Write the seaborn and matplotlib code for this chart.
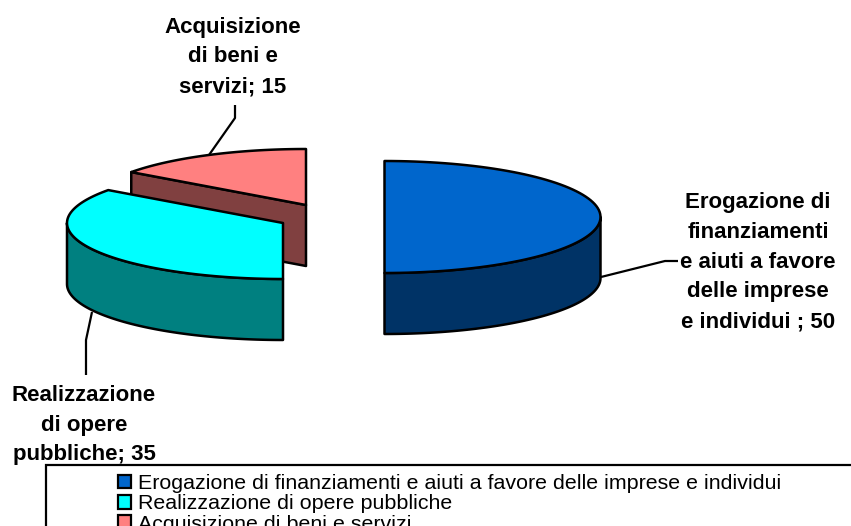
import numpy as np
import matplotlib
matplotlib.use("Agg")
import matplotlib.pyplot as plt
from matplotlib.patches import Patch, Rectangle
import seaborn as sns

categories = ["Erogazione di finanziamenti e aiuti a favore delle imprese e individui",
              "Realizzazione di opere pubbliche",
              "Acquisizione di beni e servizi"]
values = [50, 35, 15]
top_colors = ["#0066CC", "#00FFFF", "#FF8080"]
side_colors = ["#003366", "#008080", "#804040"]
slice_labels = ["Erogazione di\nfinanziamenti\ne aiuti a favore\ndelle imprese\ne individui ; 50",
                "Realizzazione\ndi opere\npubbliche; 35",
                "Acquisizione\ndi beni e\nservizi; 15"]

sns.set_theme(style="white")
plt.rcParams["font.family"] = ["Liberation Sans", "DejaVu Sans"]

fig = plt.figure(figsize=(8.51, 5.26), dpi=100)
ax = fig.add_axes([0, 0, 1, 1])
ax.set_xlim(0, 851)
ax.set_ylim(526, 0)
ax.set_axis_off()

RX, RY, DEPTH = 216, 56, 61
centers = [(384.5, 217), (283, 223), (306, 205)]
LW = 1.8


def rim(c, a0, a1, n=90):
    t = np.radians(np.linspace(a0, a1, n))
    return c[0] + RX * np.sin(t), c[1] - RY * np.cos(t)


def poly(xs, ys, color, z):
    ax.fill(xs, ys, facecolor=color, edgecolor="black", linewidth=LW, joinstyle="round", zorder=z)


angles = np.concatenate([[0], np.cumsum(values) / np.sum(values) * 360])
for i, c in enumerate(centers):
    a0, a1 = angles[i], angles[i + 1]
    z = 4 - i
    # outer wall: the part of the rim facing the viewer
    w0, w1 = max(a0, 90), min(a1, 270)
    if w1 > w0:
        x, y = rim(c, w0, w1)
        poly(np.r_[x, x[::-1]], np.r_[y, y[::-1] + DEPTH], side_colors[i], z)
    # straight cut face, only when it turns towards the viewer
    if 180 < a0 < 360:
        x, y = rim(c, a0, a0, 1)
        poly([x[0], c[0], c[0], x[0]], [y[0], c[1], c[1] + DEPTH, y[0] + DEPTH], side_colors[i], z)
    x, y = rim(c, a0, a1)
    poly(np.r_[c[0], x], np.r_[c[1], y], top_colors[i], z + 0.5)

# leader lines
leaders = [([601, 665, 678], [277, 261, 261]),
           ([92, 86, 86], [312, 340, 375]),
           ([209, 235, 235], [155, 118, 105])]
for lx, ly in leaders:
    ax.plot(lx, ly, color="black", lw=1.6, zorder=6, solid_capstyle="butt")

label_pos = [(758, 262), (84, 425), (233, 57)]
for (x, y), t in zip(label_pos, slice_labels):
    ax.text(x, y, t, ha="center", va="center", fontsize=16, fontweight="bold",
            color="black", linespacing=1.56, zorder=7)

# legend frame runs off the right and bottom of the picture
ax.add_patch(Rectangle((46, 465), 900, 120, facecolor="white", edgecolor="black", lw=1.6, zorder=8))
handles = [Patch(facecolor=c, edgecolor="black", linewidth=1.6) for c in top_colors]
leg = ax.legend(handles, categories, loc="upper left", bbox_to_anchor=(118, 474),
                bbox_transform=ax.transData, frameon=False, fontsize=15.4,
                labelcolor="black", borderpad=0, borderaxespad=0, labelspacing=0.06,
                handlelength=0.6, handleheight=0.6, handletextpad=0.33)
leg.set_zorder(9)
fig.savefig("out.png", dpi=100)
